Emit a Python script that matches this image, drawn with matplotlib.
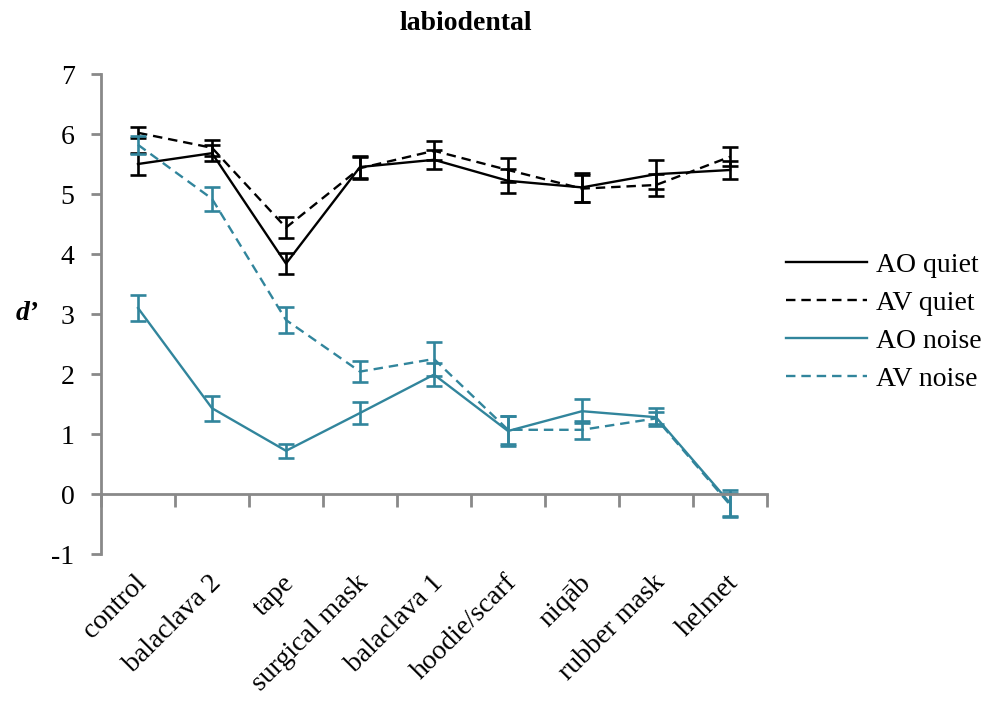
import numpy as np
import matplotlib
matplotlib.use("Agg")
import matplotlib.pyplot as plt
import matplotlib.transforms as mtransforms

plt.rcParams['font.family'] = ['Liberation Serif', 'DejaVu Serif']

# categories and d' values
cats = ["control", "balaclava 2", "tape", "surgical mask", "balaclava 1",
        "hoodie/scarf", "niq\u0101b", "rubber mask", "helmet"]

ao_quiet = [5.50, 5.68, 3.84, 5.45, 5.57, 5.22, 5.11, 5.33, 5.40]
ao_quiet_err = [0.18, 0.13, 0.17, 0.19, 0.16, 0.20, 0.24, 0.24, 0.15]
av_quiet = [6.02, 5.77, 4.44, 5.43, 5.72, 5.40, 5.09, 5.15, 5.62]
av_quiet_err = [0.09, 0.13, 0.18, 0.18, 0.16, 0.20, 0.22, 0.19, 0.16]
ao_noise = [3.10, 1.43, 0.72, 1.35, 1.99, 1.05, 1.38, 1.28, -0.15]
ao_noise_err = [0.21, 0.21, 0.12, 0.18, 0.19, 0.25, 0.20, 0.15, 0.22]
av_noise = [5.82, 4.92, 2.90, 2.04, 2.25, 1.07, 1.07, 1.26, -0.18]
av_noise_err = [0.15, 0.20, 0.21, 0.17, 0.29, 0.23, 0.15, 0.10, 0.20]

teal = "#31859C"
grey = "#898989"
dash = (0, (4, 2.5))

fig = plt.figure(figsize=(9.89, 7.04), dpi=100)
ax = fig.add_axes([101/989, 1-554/704, (767-101)/989, (554-74)/704])

x = np.arange(len(cats))
series = [
    ("AO quiet", ao_quiet, ao_quiet_err, "black", "-"),
    ("AV quiet", av_quiet, av_quiet_err, "black", dash),
    ("AO noise", ao_noise, ao_noise_err, teal, "-"),
    ("AV noise", av_noise, av_noise_err, teal, dash),
]
handles = []
for name, vals, err, col, ls in series:
    ax.errorbar(x, vals, yerr=err, fmt="none", ecolor=col, elinewidth=1.9,
                capsize=5.8, capthick=1.9)
    ln, = ax.plot(x, vals, color=col, lw=1.7, linestyle=ls, label=name)
    handles.append(ln)

ax.set_xlim(-0.5, len(cats) - 0.5)
ax.set_ylim(-1, 7)
ax.set_yticks(range(-1, 8))
ax.set_yticklabels([str(v) for v in range(-1, 8)], fontsize=20)

for s in ["top", "right"]:
    ax.spines[s].set_visible(False)
ax.spines["bottom"].set_position(("data", 0))
ax.spines["left"].set_color(grey)
ax.spines["bottom"].set_color(grey)
ax.spines["left"].set_linewidth(2)
ax.spines["bottom"].set_linewidth(2)
ax.tick_params(axis="y", colors=grey, labelcolor="black", length=7, width=2, pad=12)
ax.set_xticks(np.arange(-0.5, len(cats)), [])
ax.tick_params(axis="x", colors=grey, direction="out", length=9, width=2)

# category labels sit under the plot, rotated
trans = mtransforms.offset_copy(ax.get_xaxis_transform(), fig=fig, x=5, y=-25, units="dots")
for i, c in enumerate(cats):
    ax.text(i, 0, c, transform=trans, rotation=45, rotation_mode="anchor",
            ha="right", va="center", fontsize=20)

fig.text(466/989, 1-23/704, "labiodental", ha="center", va="center",
         fontsize=20, fontweight="bold")
fig.text(27/989, 1-314/704, "d\u2019", ha="center", va="center",
         fontsize=20, fontweight="bold", fontstyle="italic")

fig.legend(handles=handles, loc="center left", bbox_to_anchor=(761/989, 1-322/704),
           frameon=False, fontsize=20, handlelength=2.9, handletextpad=0.35,
           labelspacing=0.45)

fig.savefig("out.png", dpi=100)
